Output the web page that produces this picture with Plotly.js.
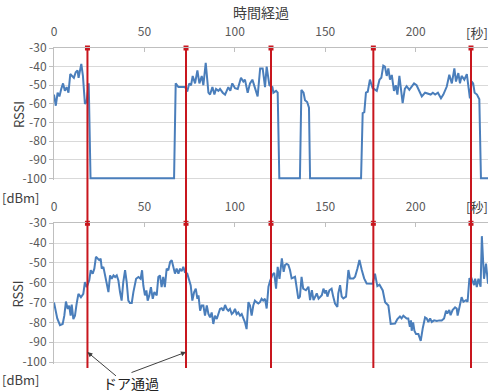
<!DOCTYPE html>
<html>
<head>
<meta charset="utf-8">
<script src="https://cdn.plot.ly/plotly-3.0.1.min.js"></script>
<style>html,body{margin:0;padding:0;background:#fff;}#chart{width:489px;height:392px;}</style>
</head>
<body>
<div id="chart"></div>
<script>
// 上段（通過時に電波が途切れる側）
const topTime = [0,1,2,3,4,5,6,7,8,9,10,11,12,13,13.6,15.1,16,17.1,18,19.2,20.2,66.4,67.3,68.8,72.5,73.7,74.8,75.8,76.7,78,79.3,80.4,81.7,82.6,83.9,85.4,86.3,87.6,88.7,89.6,90.9,91.8,93.3,94.6,96.4,97.5,98.6,100.1,101.6,103.4,104.7,105.6,107.1,108.4,109.7,111.1,112.6,114,115.4,116.7,117.6,119.1,120.8,121.3,122.8,123.7,124.6,136,136.8,138,138.8,140,141,141.6,169.8,170.7,171.6,172.5,173.5,174.7,176.2,178.5,180,181,182.1,183,184,184.9,185.8,186.8,188,189,189.9,191,192,192.8,194,195,196.5,197.8,199.1,200.5,201.8,203.4,205.2,207,208.3,209.5,210.8,212.3,214,215.3,217.2,218.6,220,221.4,222.3,223.6,224.5,225.4,226.9,228.3,230,230.9,231.8,232.6,233.9,235.2,236.1,240];
const topRssi = [-55,-61,-54,-56,-52,-49,-53,-51,-54,-44,-45,-46,-43,-42,-46,-38.5,-45,-60,-59,-49,-100,-100,-49,-51,-51,-53.4,-49,-50,-45,-49,-42,-49,-45,-50,-38,-54,-55,-51,-55,-52,-53,-52,-54,-55,-51,-53,-49,-51.6,-52,-46,-48,-47,-54,-49,-47,-52,-56,-41,-41,-51,-40,-50,-51,-54,-53,-54,-100,-100,-52.5,-54,-58,-59,-62,-100,-100,-65,-64.5,-54,-53.5,-47,-51.6,-53,-47,-46,-39.5,-40,-45,-41,-47,-44.5,-53,-50,-55,-45,-52,-59.6,-52,-50.5,-52.5,-51,-49,-50,-52.5,-56,-54,-54.5,-55,-54,-55,-54,-57,-55,-50.7,-44.4,-49,-41,-48,-43.5,-49,-45,-47,-44,-57,-48,-49,-54,-55,-57.5,-100,-100];

// 下段
const bottomTime = [0,1.8,3.3,4.8,5.7,6.6,7.6,8.4,9.2,9.8,10.7,11.6,12.5,13.5,14.9,16.2,17.1,18.1,19.5,20.3,21.4,22.3,23.2,24.2,25,25.8,26.4,27.3,28.2,29.1,30.1,31,31.9,32.9,33.8,34.7,35.6,36.5,37.4,38.3,39.3,40.2,41.1,42,43,43.9,45.4,46.7,47.9,48.7,49.4,50.3,51.1,51.8,52.7,53.6,54.6,55.5,56.8,57.7,58.6,59.5,60.4,61.3,62.3,63.2,64.2,65.1,66,66.9,67.8,68.8,69.7,70.6,71.5,72.4,73.7,74.8,75.6,76.5,77.5,78.4,79.3,79.9,80.8,81.7,82.6,83.5,84.5,85.4,86.3,87.2,88.1,89,90,90.9,91.8,92.7,93.6,94.6,95.5,96.4,97.3,98.3,99.2,100.1,101,101.9,102.9,103.8,104.7,105.6,106.5,107.5,108.4,109.3,110.2,111.1,112,113,113.9,114.8,115.7,116.7,117.6,118.6,119.5,120.8,121.8,122.8,123.7,124.7,126,127,127.8,128.7,129.6,130.5,131.4,133.3,135.1,136,136.9,137.8,139.3,140.7,141.6,142.6,143.5,144.4,145.3,146.3,148.1,149,149.9,150.5,151.2,152.3,153.5,154.4,155.4,156.7,157.2,158.2,159.1,160,161.5,162.8,163.7,165.6,166.5,167.8,168.9,170.2,171.5,172.9,174.7,176.2,177.5,178.8,180,181.8,183.1,184.9,186.2,188.6,189.9,191.3,192.2,193.2,195,195.9,196.8,197.4,197.8,198.6,199.3,200.2,201.5,202.8,203.9,205.2,206.1,207,208,208.9,210.2,211.7,213.1,214.4,215.7,216.8,217.5,218.6,219.3,220.4,221.8,222.7,223.2,224.5,225.4,226.4,227.8,228.7,229.7,230.9,232.3,232.9,233.8,234.7,235.9,236.6,237.8,238.9,240];
const bottomRssi = [-70,-78,-81.4,-80.8,-76.6,-69.5,-73.2,-71.5,-76.6,-71,-78.3,-76.6,-70.7,-65.6,-67.3,-65.6,-59.7,-62.2,-58.8,-53.7,-55.4,-52.9,-46.9,-47.8,-48.6,-47.8,-52.9,-52,-56.3,-59.7,-64.7,-56.3,-58,-56.3,-57.1,-56.3,-58.8,-64.7,-69,-59.7,-53.7,-59.7,-69,-70.2,-70.2,-64.7,-58,-57.1,-58,-53.7,-61.4,-66.4,-63.9,-69,-66.4,-62.2,-68.1,-64.7,-66.4,-57.1,-56.3,-62.2,-57.1,-62.2,-52.9,-53.7,-49.5,-48.6,-52.9,-55.4,-52.9,-55.4,-52.9,-54.2,-52,-54.6,-55.4,-59.7,-61.4,-69,-64.7,-63,-68.1,-66.4,-74.1,-71.5,-71.5,-76.6,-71.5,-75.8,-77.5,-75,-80.8,-76.6,-78.3,-75.8,-73.2,-72.9,-74.1,-71.2,-73.2,-74.1,-73.2,-75.8,-75,-73.2,-75.8,-75,-76.6,-75.8,-77.5,-80,-83.4,-69.8,-71.5,-76.6,-71.5,-69,-69.8,-70.5,-69.8,-68.1,-69,-68.1,-73,-62,-59,-56,-55,-63,-52,-58,-47.7,-54.5,-51,-50.5,-51,-53.6,-57.8,-57,-68,-67,-57,-63,-63.8,-62,-68.8,-63.8,-68.8,-67,-65.4,-68,-66.3,-63,-65.4,-63.8,-67,-63.8,-63,-67,-70.5,-72.2,-65.4,-61.2,-67,-67.9,-67,-53.6,-57.8,-57.8,-57,-52.8,-48.5,-53.6,-57.8,-60.4,-60.4,-60.5,-55.4,-61.7,-61,-63.9,-69.8,-71.5,-80.8,-80.6,-78.3,-77,-78,-76.6,-78,-78,-82.3,-79,-84.2,-80,-84.2,-85.9,-85.9,-89.3,-83,-77.5,-78,-79.8,-78,-79.8,-79,-79.3,-79,-79,-78,-74.1,-75.5,-73.8,-76.4,-73.8,-72.4,-73,-76.6,-70.5,-67.3,-69.6,-68.8,-69.6,-58,-57.8,-61.2,-58,-62.2,-58,-62,-36.5,-58,-50.3,-60.5];

// ドア通過時刻
const doorTimes = [18.5, 73, 120, 176.6, 230.6];
const doorMarkY = [-30, -30, -30, -30, -30];
const xTicks = [0, 50, 100, 150, 200];
const yTicks = [-30, -40, -50, -60, -70, -80, -90, -100];

const BLUE = '#4A7EBB', RED = '#C8161E', GRID = '#D9D9D9', AX = '#BFBFBF', TXT = '#404040';
const FONT = 'Noto Sans CJK JP, Noto Sans, sans-serif';

const traces = [
  {x: topTime, y: topRssi, xaxis: 'x', yaxis: 'y', mode: 'lines', line: {color: BLUE, width: 2}, hoverinfo: 'skip'},
  {x: bottomTime, y: bottomRssi, xaxis: 'x2', yaxis: 'y2', mode: 'lines', line: {color: BLUE, width: 2}, hoverinfo: 'skip'},
  {x: doorTimes, y: doorMarkY, xaxis: 'x', yaxis: 'y', mode: 'markers', cliponaxis: false, marker: {symbol: 'square', size: 5, color: RED}},
  {x: doorTimes, y: doorMarkY, xaxis: 'x2', yaxis: 'y2', mode: 'markers', cliponaxis: false, marker: {symbol: 'square', size: 5, color: RED}}
];

function xAxis(anchor) {
  return {
    anchor: anchor, side: 'top', range: [0, 240], tickvals: xTicks, ticktext: xTicks.map(String),
    showgrid: false, zeroline: false, showline: true, linecolor: AX, linewidth: 1,
    ticks: 'inside', ticklen: 4, tickcolor: AX, ticklabelstandoff: 6,
    tickfont: {family: FONT, size: 12, color: '#595959'}
  };
}
function yAxis(anchor, dom) {
  return {
    anchor: anchor, domain: dom, range: [-101, -30], tickvals: yTicks, ticktext: yTicks.map(String),
    showgrid: true, gridcolor: GRID, gridwidth: 1, zeroline: false,
    showline: true, linecolor: AX, linewidth: 1, ticks: 'outside', ticklen: 4, tickcolor: AX,
    tickfont: {family: FONT, size: 12, color: '#595959'}
  };
}

const shapes = doorTimes.map(t => ({
  type: 'line', xref: 'x', yref: 'paper', x0: t, x1: t, y0: -0.013, y1: 1,
  line: {color: RED, width: 2}
}));

const lbl = (text, x, y, size, color, angle) => ({text: text, xref: 'paper', yref: 'paper', x: x, y: y,
  xanchor: 'center', yanchor: 'middle', showarrow: false, textangle: angle || 0,
  font: {family: FONT, size: size, color: color}});

const annotations = [
  lbl('RSSI', -0.083, (0.5816 + 1) / 2, 13, TXT, -90),
  lbl('RSSI', -0.083, 0.4453 / 2, 13, TXT, -90),
  lbl('[秒]', 0.9747, 1.0506, 13, TXT),
  lbl('[秒]', 0.9747, 0.5, 13, TXT),
  lbl('[dBm]', -0.078, 0.528, 13, TXT),
  lbl('[dBm]', -0.078, -0.0506, 13, TXT),
  lbl('ドア通過', 0.1774, -0.0601, 14, '#222'),
  {text: '', xref: 'x2', yref: 'y2', x: doorTimes[0], y: -95, axref: 'pixel', ayref: 'pixel', ax: 30, ay: 25,
   showarrow: true, arrowhead: 2, arrowsize: 1, arrowwidth: 1, arrowcolor: '#404040'},
  {text: '', xref: 'x2', yref: 'y2', x: doorTimes[1], y: -95, axref: 'pixel', ayref: 'pixel', ax: -56, ay: 21,
   showarrow: true, arrowhead: 2, arrowsize: 1, arrowwidth: 1, arrowcolor: '#404040'}
];

const layout = {
  width: 489, height: 392,
  margin: {l: 54, r: 1, t: 48, b: 28},
  paper_bgcolor: '#fff', plot_bgcolor: '#fff',
  showlegend: false,
  title: {text: '時間経過', x: 261 / 489, xanchor: 'center', y: 1 - 13 / 392, yanchor: 'middle',
          font: {family: FONT, size: 14, color: TXT}},
  xaxis: xAxis('y'),
  yaxis: yAxis('x', [0.5816, 1]),
  xaxis2: xAxis('y2'),
  yaxis2: yAxis('x2', [0, 0.4453]),
  shapes: shapes,
  annotations: annotations
};

Plotly.newPlot('chart', traces, layout, {displayModeBar: false, staticPlot: true});
</script>
</body>
</html>
